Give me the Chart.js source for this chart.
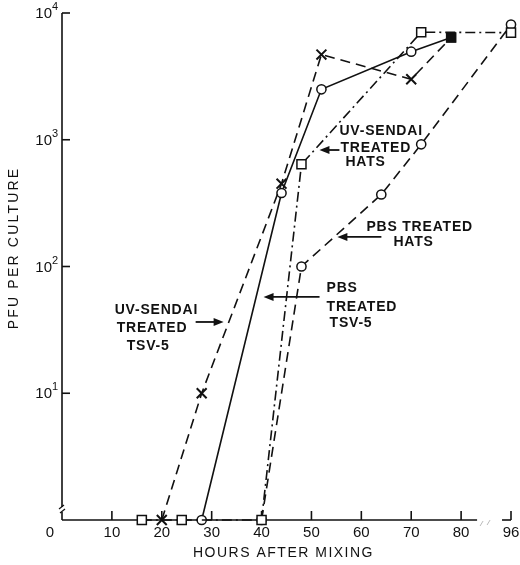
<!DOCTYPE html>
<html>
<head>
<meta charset="utf-8">
<script src="https://cdn.jsdelivr.net/npm/chart.js@4/dist/chart.umd.min.js"></script>
<style>
  html, body { margin: 0; background: #fff; }
  #wrap { width: 520px; height: 565px; position: relative; }
</style>
</head>
<body>
<div id="wrap"><canvas id="c"></canvas></div>
<script>
// Growth curves. Hours after mixing / PFU per culture.
// A PFU of 0 means "none detected" and is drawn on the baseline.
const UVS_TSV_HOURS = [20, 28, 44, 52, 70, 78];
const UVS_TSV_PFU   = [0, 10, 450, 4700, 3000, 6400];

const PBS_TSV_HOURS = [28, 44, 52, 70, 78];
const PBS_TSV_PFU   = [0, 380, 2500, 4950, 6400];

const UVS_HATS_HOURS = [16, 24, 40, 48, 72, 96];
const UVS_HATS_PFU   = [0, 0, 0, 640, 7050, 7000];

const PBS_HATS_HOURS = [40, 48, 64, 72, 96];
const PBS_HATS_PFU   = [0, 100, 370, 920, 8100];

const X_TICKS = [0, 10, 20, 30, 40, 50, 60, 70, 80, 96];
const Y_TICKS = [10, 100, 1000, 10000];

// Axis is broken between 84 and 96 h — squeeze that stretch.
const BREAK_FROM = 84, BREAK_GAP = 6;
const xPos = h => (h > BREAK_FROM ? h - BREAK_GAP : h);
const hourAt = p => (p > BREAK_FROM ? p + BREAK_GAP : p);
const BASE = 1;              // baseline of the log axis
const MERGED_HOUR = 78;      // shared end point, drawn as a filled square
const INK = '#111';

const pts = (hs, vs) => hs.map((h, i) => ({ x: xPos(h), y: vs[i] === 0 ? BASE : vs[i] }));

// Text call-outs: arrow tip sits on data coords, text offset in px from tip.
const CALLOUTS = [
  { tip: [51.6, 830], tail: 20, lines: [['UV-SENDAI', 20, -19], ['TREATED', 21, -2], ['HATS', 26, 12]] },
  { tip: [55.2, 171], tail: 44, lines: [['PBS TREATED', 29, -10], ['HATS', 56, 5]] },
  { tip: [40.4, 57.5], tail: 56, lines: [['PBS', 63, -9], ['TREATED', 63, 10], ['TSV-5', 66, 26]] },
  { tip: [32.4, 36.5], tail: -28, lines: [['UV-SENDAI', -109, -12], ['TREATED', -107, 6], ['TSV-5', -97, 24]] },
];

function line(ctx, x0, y0, x1, y1) {
  ctx.beginPath(); ctx.moveTo(x0, y0); ctx.lineTo(x1, y1); ctx.stroke();
}

const paperAxes = {
  id: 'paperAxes',
  beforeDatasetsDraw(chart) {
    const { ctx, chartArea: a, scales: { x, y } } = chart;
    ctx.save();
    ctx.strokeStyle = INK;
    ctx.lineWidth = 1.6;
    ctx.lineCap = 'butt';

    // y axis with the small break mark near the bottom
    line(ctx, a.left, a.top, a.left, a.bottom - 13);
    line(ctx, a.left, a.bottom - 8, a.left, a.bottom);
    ctx.lineWidth = 1.3;
    line(ctx, a.left - 3, a.bottom - 11, a.left + 2, a.bottom - 15);
    line(ctx, a.left - 2, a.bottom - 7, a.left + 3, a.bottom - 11);

    // x axis, broken before the 96 h tick
    ctx.lineWidth = 1.6;
    const bx0 = x.getPixelForValue(83.2), bx1 = x.getPixelForValue(88.2);
    line(ctx, a.left, a.bottom, bx0, a.bottom);
    line(ctx, bx1, a.bottom, a.right, a.bottom);
    ctx.strokeStyle = '#bbb'; ctx.lineWidth = 1;
    line(ctx, bx0 + 3, a.bottom + 6, bx0 + 6, a.bottom + 1);
    line(ctx, bx0 + 10, a.bottom + 5, bx0 + 13, a.bottom);
    ctx.strokeStyle = INK; ctx.lineWidth = 1.6;

    // inward ticks
    y.ticks.forEach(t => {
      const py = y.getPixelForValue(t.value);
      line(ctx, a.left, py, a.left + 8, py);
    });
    x.ticks.forEach(t => {
      if (t.value === 0) return;
      const px = x.getPixelForValue(t.value);
      line(ctx, px, a.bottom, px, a.bottom - 9);
    });

    // tick labels
    ctx.fillStyle = INK;
    ctx.textBaseline = 'middle';
    y.ticks.forEach(t => {
      const py = y.getPixelForValue(t.value);
      const exp = Math.round(Math.log10(t.value));
      ctx.font = '15px "Liberation Sans", Arial, sans-serif';
      ctx.textAlign = 'right';
      ctx.fillText('10', 52, py + 1);
      ctx.font = '11px "Liberation Sans", Arial, sans-serif';
      ctx.textAlign = 'left';
      ctx.fillText(String(exp), 52, py - 6);
    });
    ctx.font = '15px "Liberation Sans", Arial, sans-serif';
    ctx.textAlign = 'center';
    x.ticks.forEach(t => {
      const px = x.getPixelForValue(t.value);
      ctx.fillText(t.label, t.value === 0 ? px - 12 : px, a.bottom + 13);
    });

    // axis titles
    ctx.font = '14px "Liberation Sans", Arial, sans-serif';
    ctx.letterSpacing = '1.5px';
    ctx.fillText('HOURS AFTER MIXING', (a.left + a.right) / 2 - 3, a.bottom + 33);
    ctx.save();
    ctx.translate(14, 248);
    ctx.rotate(-Math.PI / 2);
    ctx.letterSpacing = '2.2px';
    ctx.fillText('PFU PER CULTURE', 0, 0);
    ctx.restore();
    ctx.restore();
  },
  afterDatasetsDraw(chart) {
    const { ctx, scales: { x, y } } = chart;
    ctx.save();
    ctx.fillStyle = INK; ctx.strokeStyle = INK;
    ctx.font = 'bold 14px "Liberation Sans", Arial, sans-serif';
    ctx.letterSpacing = '0.8px';
    ctx.textAlign = 'left';
    ctx.textBaseline = 'middle';
    CALLOUTS.forEach(c => {
      const tx = x.getPixelForValue(xPos(c.tip[0]));
      const ty = y.getPixelForValue(c.tip[1]);
      const dir = c.tail > 0 ? 1 : -1;
      ctx.lineWidth = 1.8;
      line(ctx, tx + dir * 6, ty, tx + c.tail, ty);
      ctx.beginPath();
      ctx.moveTo(tx, ty);
      ctx.lineTo(tx + dir * 10, ty - 4);
      ctx.lineTo(tx + dir * 10, ty + 4);
      ctx.closePath();
      ctx.fill();
      c.lines.forEach(([txt, dx, dy]) => ctx.fillText(txt, tx + dx, ty + dy));
    });
    ctx.restore();
  },
};

function series(label, hours, pfu, style, dash) {
  const merged = hours.map(h => h === MERGED_HOUR);
  const shape = style === 'x' ? 'crossRot' : style;
  return {
    label,
    data: pts(hours, pfu),
    borderColor: INK,
    borderWidth: 1.6,
    borderDash: dash,
    pointStyle: merged.map(m => (m ? 'rect' : shape)),
    pointRadius: merged.map(m => (m ? 6 : shape === 'rect' ? 6.4 : shape === 'crossRot' ? 7 : 4.6)),
    pointBackgroundColor: merged.map(m => (m ? INK : '#fff')),
    pointBorderColor: INK,
    pointBorderWidth: shape === 'crossRot' ? 2 : 1.5,
    tension: 0,
    clip: false,
  };
}

new Chart(document.getElementById('c'), {
  type: 'line',
  data: {
    datasets: [
      series('UV-Sendai treated HATS', UVS_HATS_HOURS, UVS_HATS_PFU, 'rect', [10, 4, 2, 4]),
      series('PBS treated HATS', PBS_HATS_HOURS, PBS_HATS_PFU, 'circle', [10, 6]),
      series('UV-Sendai treated TSV-5', UVS_TSV_HOURS, UVS_TSV_PFU, 'x', [10, 6]),
      series('PBS treated TSV-5', PBS_TSV_HOURS, PBS_TSV_PFU, 'circle', []),
    ],
  },
  options: {
    responsive: true,
    maintainAspectRatio: false,
    animation: false,
    layout: { padding: { top: 13, right: 7, left: 0, bottom: 0 } },
    plugins: { legend: { display: false }, tooltip: { enabled: false } },
    scales: {
      x: {
        type: 'linear', min: 0, max: xPos(96),
        grid: { display: false }, border: { display: false },
        ticks: { display: false, callback: v => String(hourAt(v)) },
        afterBuildTicks: s => { s.ticks = X_TICKS.map(h => ({ value: xPos(h) })); },
        afterFit: s => { s.height = 45; },
      },
      y: {
        type: 'logarithmic', min: BASE, max: 10000,
        grid: { display: false }, border: { display: false },
        ticks: { display: false },
        afterBuildTicks: s => { s.ticks = Y_TICKS.map(v => ({ value: v })); },
        afterFit: s => { s.width = 62; },
      },
    },
  },
  plugins: [paperAxes],
});
</script>
</body>
</html>
